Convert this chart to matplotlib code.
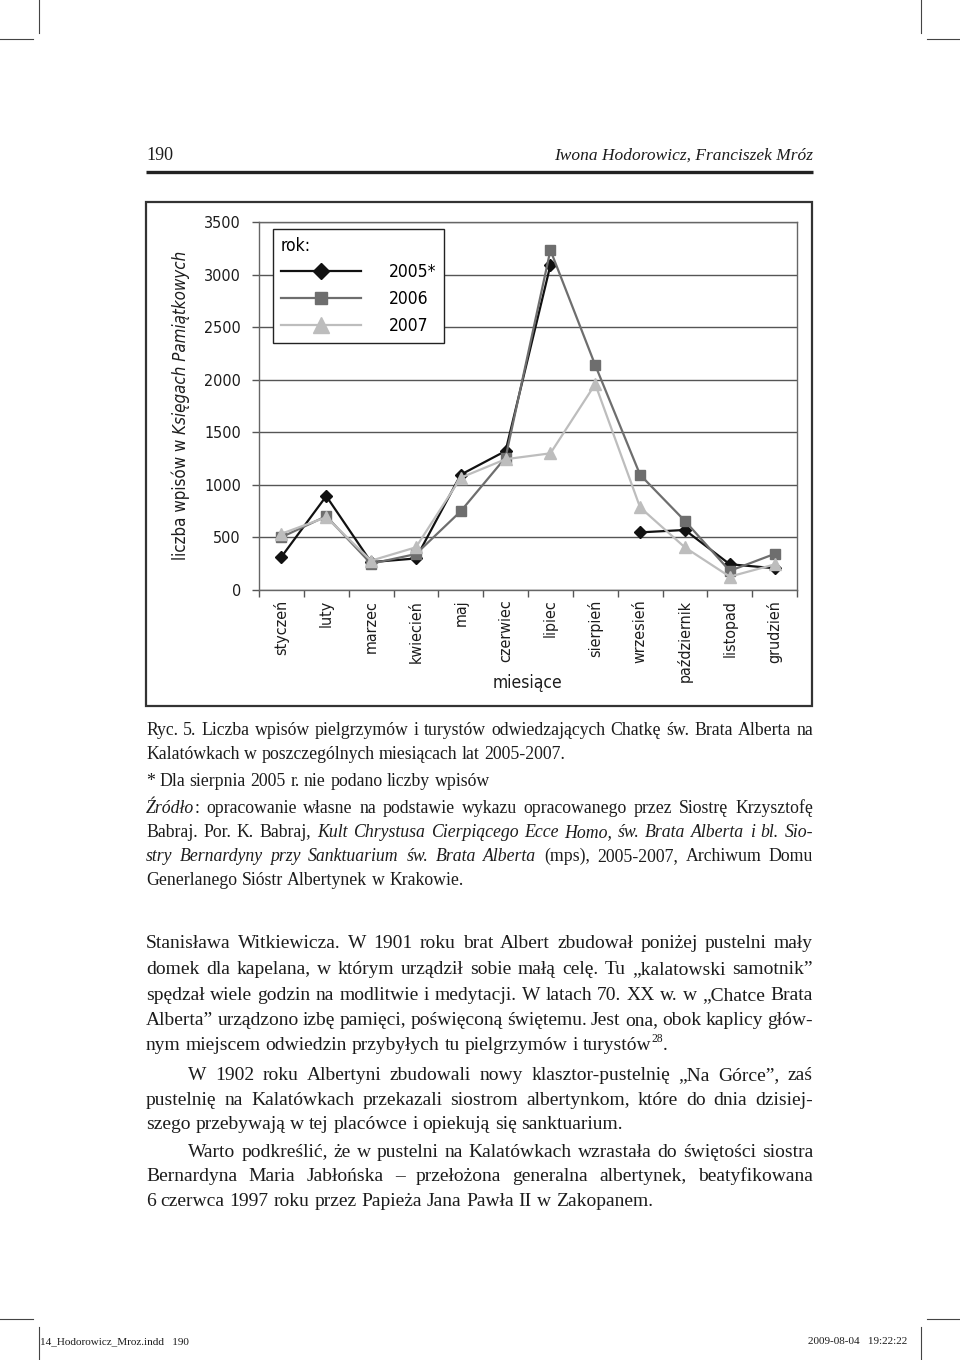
import numpy as np
import matplotlib
matplotlib.use("Agg")
import matplotlib.pyplot as plt
from matplotlib import font_manager as fm
from matplotlib.patches import Rectangle

# -----------------------
# Data
# -----------------------

months = ["styczeń", "luty", "marzec", "kwiecień", "maj", "czerwiec",
          "lipiec", "sierpień", "wrzesień", "październik", "listopad", "grudzień"]

y2005 = [315, 893, 265, 300, 1097, 1322, 3090, np.nan, 548, 571, 245, 207]
y2006 = [502, 702, 250, 342, 749, 1260, 3232, 2138, 1096, 657, 182, 343]
y2007 = [535, 692, 279, 406, 1068, 1244, 1300, 1958, 786, 405, 127, 243]

series_labels = ["2005*", "2006", "2007"]
y_ticks = [0, 500, 1000, 1500, 2000, 2500, 3000, 3500]

# narrow sans for the chart, if one is installed
names = {f.name for f in fm.fontManager.ttflist}
if "Liberation Sans Narrow" in names:
    SANS = dict(family="Liberation Sans Narrow")
elif any(f.name == "DejaVu Sans" and f.stretch == "condensed" for f in fm.fontManager.ttflist):
    SANS = dict(family="DejaVu Sans", stretch="condensed")
else:
    SANS = dict(family="Liberation Sans")
SERIF = ["Liberation Serif", "DejaVu Serif"]
INK = "#1c1c1c"

W, H = 960, 1360
fig = plt.figure(figsize=(W / 100, H / 100), dpi=100)

# page overlay in pixel coordinates
page = fig.add_axes([0, 0, 1, 1])
page.set_xlim(0, W)
page.set_ylim(H, 0)
page.axis("off")

# crop marks
for x0, x1, y in [(0, 33, 39), (927, 960, 39), (0, 33, 1319), (927, 960, 1319)]:
    page.plot([x0, x1], [y, y], color="#444", lw=0.8)
for x, y0, y1 in [(39, 0, 33), (921, 0, 33), (39, 1327, 1360), (921, 1327, 1360)]:
    page.plot([x, x], [y0, y1], color="#444", lw=0.8)

# header
page.text(146, 160, "190", family=SERIF, fontsize=13, color=INK, va="baseline")
page.text(813, 160, "Iwona Hodorowicz, Franciszek Mróz", family=SERIF, style="italic",
          fontsize=12.5, color=INK, va="baseline", ha="right")
page.plot([146, 813], [172, 172], color="#222", lw=2.4, solid_capstyle="butt")

# footer
page.text(40, 1344, "14_Hodorowicz_Mroz.indd   190", family=SERIF, fontsize=8,
          color=INK, va="baseline")
page.text(907, 1344, "2009-08-04   19:22:22", family=SERIF, fontsize=8,
          color=INK, va="baseline", ha="right")

# chart frame
page.add_patch(Rectangle((146, 202), 666, 504, fill=False, ec="#333", lw=1.6))

# -----------------------
# Justified text helper
# -----------------------

renderer = fig.canvas.get_renderer()


def parse(line):
    # | toggles italic, ^ toggles superscript
    words = []
    italic = False
    for tok in line.split(" "):
        if tok == "":
            continue
        pieces = []
        buf = ""
        sup = False
        for ch in tok:
            if ch in "|^":
                if buf:
                    pieces.append((buf, "s" if sup else ("i" if italic else "n")))
                    buf = ""
                if ch == "|":
                    italic = not italic
                else:
                    sup = not sup
            else:
                buf += ch
        if buf:
            pieces.append((buf, "s" if sup else ("i" if italic else "n")))
        words.append(pieces)
    return words


def space_width(size):
    a = page.text(0, 0, "n n", family=SERIF, fontsize=size)
    b = page.text(0, 0, "nn", family=SERIF, fontsize=size)
    w = a.get_window_extent(renderer).width - b.get_window_extent(renderer).width
    a.remove()
    b.remove()
    return w


def draw_line(line, x0, x1, y, size, justify=True):
    words = parse(line)
    objs = []
    for w in words:
        pieces = []
        for t, st in w:
            kw = dict(family=SERIF, fontsize=size, color=INK, va="baseline", ha="left")
            if st == "i":
                kw["style"] = "italic"
            if st == "s":
                kw["fontsize"] = size * 0.6
            pieces.append((page.text(0, y, t, **kw), st))
        objs.append(pieces)
    widths = [[p.get_window_extent(renderer).width for p, _ in pcs] for pcs in objs]
    total = sum(sum(ws) for ws in widths)
    if justify and len(objs) > 1:
        gap = (x1 - x0 - total) / (len(objs) - 1)
    else:
        gap = space_width(size)
    x = x0
    for pcs, ws in zip(objs, widths):
        for (p, st), w in zip(pcs, ws):
            p.set_x(x)
            if st == "s":
                p.set_y(y - size * 0.55)
            x += w
        x += gap


# caption
caption = [
    ("Ryc. 5. Liczba wpisów pielgrzymów i turystów odwiedzających Chatkę św. Brata Alberta na", 735, True),
    ("Kalatówkach w poszczególnych miesiącach lat 2005-2007.", 759, False),
    ("* Dla sierpnia 2005 r. nie podano liczby wpisów", 786, False),
    ("|Źródło|: opracowanie własne na podstawie wykazu opracowanego przez Siostrę Krzysztofę", 813, True),
    ("Babraj. Por. K. Babraj, |Kult Chrystusa Cierpiącego Ecce Homo, św. Brata Alberta i bl. Sio-|", 837, True),
    ("|stry Bernardyny przy Sanktuarium św. Brata Alberta| (mps), 2005-2007, Archiwum Domu", 861, True),
    ("Generlanego Sióstr Albertynek w Krakowie.", 885, False),
]
for text, y, just in caption:
    draw_line(text, 146, 813, y, 12.8, just)

# body
body = [
    ("Stanisława Witkiewicza. W 1901 roku brat Albert zbudował poniżej pustelni mały", 146, 948, True),
    ("domek dla kapelana, w którym urządził sobie małą celę. Tu „kalatowski samotnik”", 146, 974, True),
    ("spędzał wiele godzin na modlitwie i medytacji. W latach 70. XX w. w „Chatce Brata", 146, 1000, True),
    ("Alberta” urządzono izbę pamięci, poświęconą świętemu. Jest ona, obok kaplicy głów-", 146, 1025, True),
    ("nym miejscem odwiedzin przybyłych tu pielgrzymów i turystów^28^.", 146, 1050, False),
    ("W 1902 roku Albertyni zbudowali nowy klasztor-pustelnię „Na Górce”, zaś", 188, 1080, True),
    ("pustelnię na Kalatówkach przekazali siostrom albertynkom, które do dnia dzisiej-", 146, 1105, True),
    ("szego przebywają w tej placówce i opiekują się sanktuarium.", 146, 1129, False),
    ("Warto podkreślić, że w pustelni na Kalatówkach wzrastała do świętości siostra", 188, 1157, True),
    ("Bernardyna Maria Jabłońska – przełożona generalna albertynek, beatyfikowana", 146, 1181, True),
    ("6 czerwca 1997 roku przez Papieża Jana Pawła II w Zakopanem.", 146, 1206, False),
]
for text, x0, y, just in body:
    draw_line(text, x0, 813, y, 14.0, just)

# -----------------------
# Chart
# -----------------------

ax = fig.add_axes([259 / W, 1 - 590 / H, 538 / W, 368 / H])
ax.patch.set_alpha(0)

x = np.arange(len(months))
styles = [
    (y2005, "#111111", "D", 6.2),
    (y2006, "#6e6e6e", "s", 6.8),
    (y2007, "#bdbdbd", "^", 8.2),
]
for (vals, col, mk, ms), lab in zip(styles, series_labels):
    ax.plot(x, vals, color=col, lw=1.6, marker=mk, ms=ms, mec=col, mfc=col, label=lab, zorder=3)

ax.set_xlim(-0.5, 11.5)
ax.set_ylim(0, 3500)
ax.set_yticks(y_ticks)
ax.set_yticklabels([str(v) for v in y_ticks], fontsize=11.5, color=INK, **SANS)
ax.yaxis.grid(True, color="#555", lw=1.0)
ax.set_axisbelow(True)

ax.set_xticks(np.arange(-0.5, 12, 1.0))
ax.set_xticklabels([])
ax.set_xticks(x, minor=True)
ax.set_xticklabels(months, minor=True, rotation=90, va="top",
                   fontsize=11.5, color=INK, **SANS)
ax.tick_params(axis="x", which="minor", length=0, pad=7)
ax.tick_params(axis="both", which="major", length=5, width=1, color="#555", direction="out")
ax.tick_params(axis="y", pad=8)

for s in ax.spines.values():
    s.set_color("#666")
    s.set_linewidth(1.0)

page.text(528, 683, "miesiące", fontsize=12.5, color=INK, ha="center", va="center", **SANS)

legend_font = fm.FontProperties(size=12.5, **SANS)
leg = ax.legend(loc="upper left", bbox_to_anchor=(0.026, 0.981), borderaxespad=0,
                title="rok:", alignment="left", fancybox=False, edgecolor="#222",
                framealpha=1, handlelength=4.6, handletextpad=1.6, labelspacing=0.5,
                markerscale=1.35, borderpad=0.45, prop=legend_font,
                title_fontproperties=legend_font)
leg.get_frame().set_linewidth(1.0)

# y label with italic part, rotated
ylab_y_center = 405
part1 = page.text(181, 0, "liczba wpisów w ", fontsize=12.2, color=INK,
                  rotation=90, rotation_mode="anchor", ha="left", va="center", **SANS)
part2 = page.text(181, 0, "Księgach Pamiątkowych", style="italic", fontsize=12.2,
                  color=INK, rotation=90, rotation_mode="anchor", ha="left", va="center", **SANS)
l1 = part1.get_window_extent(renderer).height
l2 = part2.get_window_extent(renderer).height
start = ylab_y_center + (l1 + l2) / 2
part1.set_y(start)
part2.set_y(start - l1)

fig.savefig("out.png", dpi=100)
